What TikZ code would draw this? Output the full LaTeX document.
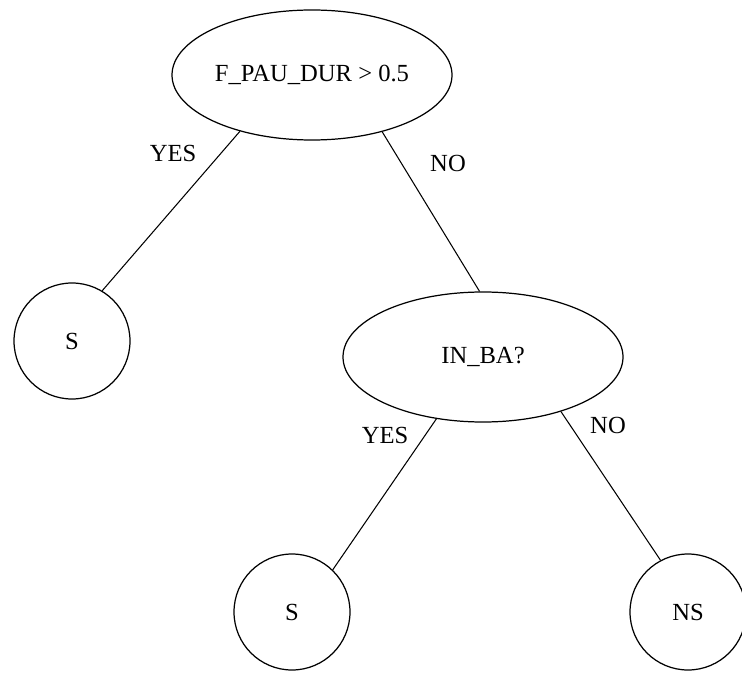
\documentclass[tikz,border=0pt]{standalone}
\usepackage{fontspec}
\setmainfont{Liberation Serif}
\usetikzlibrary{positioning,shapes.geometric}

\begin{document}
\begin{tikzpicture}[test/.style={ellipse,draw,line width=0.7pt,minimum width=5.6cm,minimum height=2.6cm,inner sep=0pt},
    leaf/.style={circle,draw,line width=0.7pt,minimum size=2.32cm,inner sep=0pt},
    branch/.style={line width=0.6pt},
    every node/.style={font=\fontsize{14}{16}\selectfont}]
    \useasboundingbox (0,0) rectangle (14.84,-13.46);

    \node[test] (pau) at (6.24,-1.5)   {F\_PAU\_DUR > 0.5};
    \node[leaf] (s1)  at (1.44,-6.82)  {S};
    \node[test] (ba)  at (9.66,-7.14)  {IN\_BA?};
    \node[leaf] (s2)  at (5.84,-12.24) {S};
    \node[leaf] (ns)  at (13.76,-12.24) {NS};

    \node (yes1) at (3.46,-3.06) {YES};
    \node (no1)  at (8.96,-3.26) {NO};
    \node (yes2) at (7.7,-8.7)   {YES};
    \node (no2)  at (12.16,-8.5) {NO};

    \draw[branch] (pau.218) -- (s1.59);
    \draw[branch] (pau.321) -- (ba.93);
    \draw[branch] (ba.233) -- (s2.46);
    \draw[branch] (ba.325) -- (ns.118);
\end{tikzpicture}
\end{document}
